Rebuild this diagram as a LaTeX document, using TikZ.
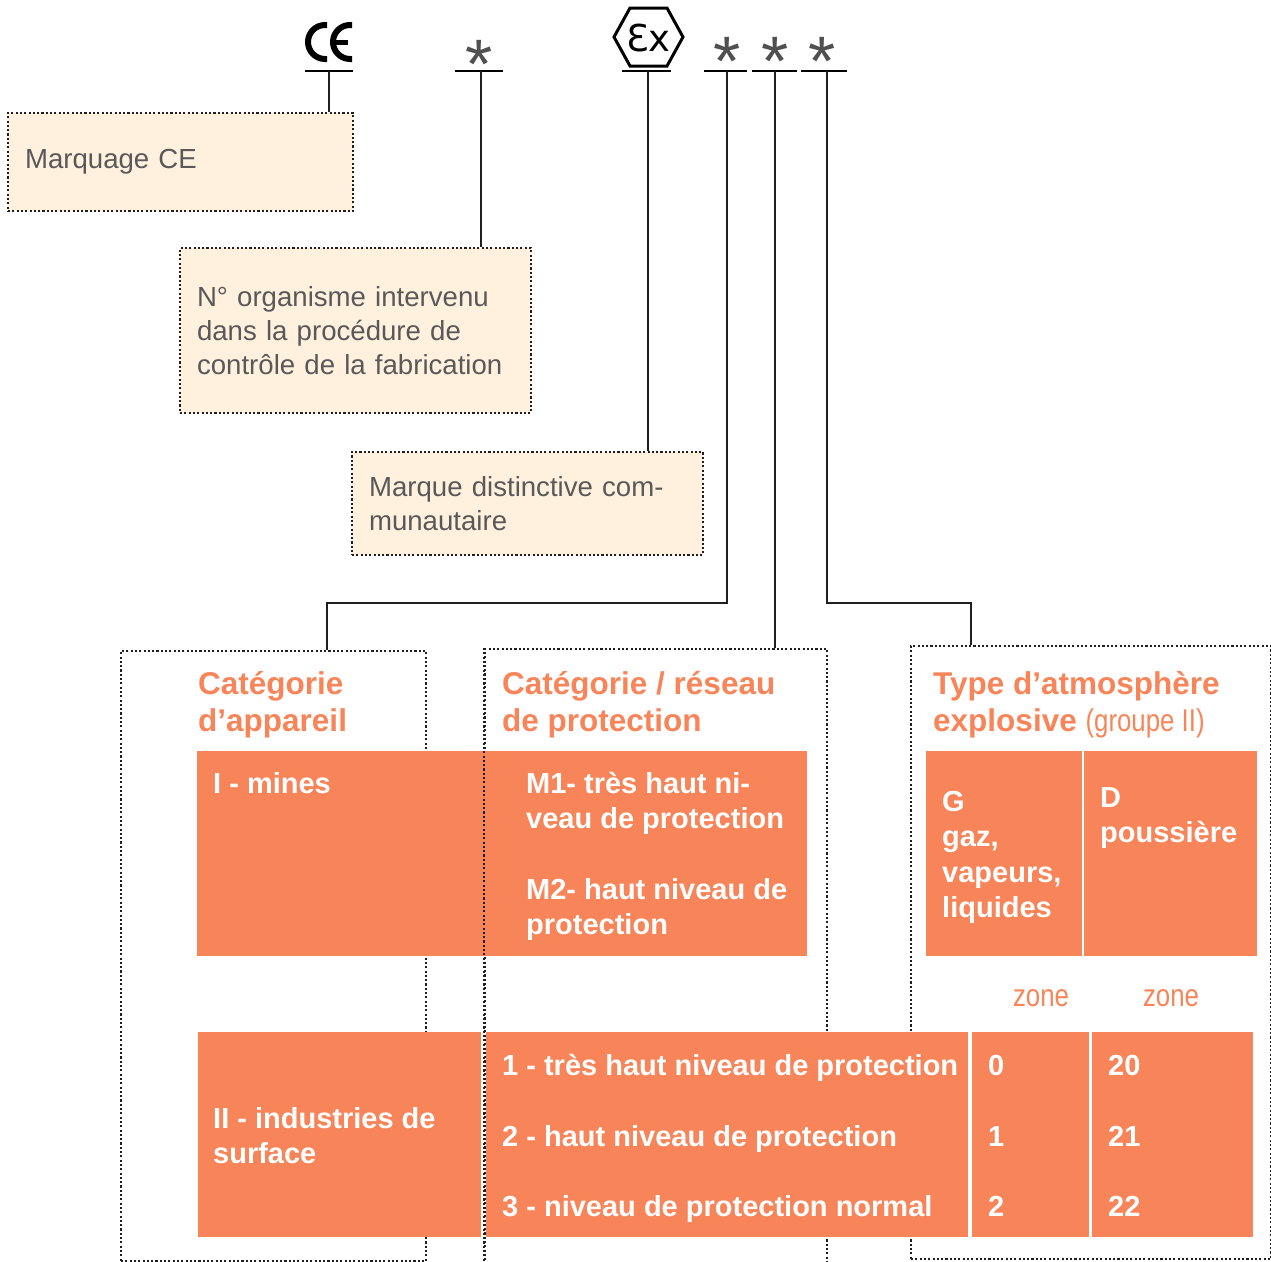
\documentclass[tikz,border=0pt]{standalone}
\usepackage{fontspec}
\setmainfont{Liberation Sans}
\newfontfamily\narrowfont[FakeStretch=0.82]{Liberation Sans}
\newfontfamily\dejavu{DejaVu Sans}
\definecolor{orng}{RGB}{247,133,89}
\definecolor{beige}{RGB}{255,241,222}
\definecolor{txtgray}{RGB}{89,89,89}
\definecolor{stargray}{RGB}{80,80,80}
\tikzset{
  dotline/.style={line width=2.1pt, dash pattern=on 2.1pt off 2.2pt, draw=black!88},
  infobox/.style={dotline, fill=beige, rectangle, anchor=north west, inner xsep=17pt, inner ysep=0pt, align=left, text=txtgray, font=\fontsize{27.6}{34}\selectfont},
  framebox/.style={dotline, rectangle, anchor=north west, inner sep=0pt},
  block/.style={fill=orng, rectangle, anchor=north west, inner sep=0pt},
  wtxt/.style={text=white, font=\fontsize{29}{35.5}\selectfont\bfseries, anchor=base west, inner sep=0pt, align=left},
  ttl/.style={text=orng, font=\fontsize{31.5}{37}\selectfont\bfseries, anchor=base west, inner sep=0pt, align=left},
  zonetxt/.style={text=orng, font=\narrowfont\fontsize{31.5}{37}\selectfont, anchor=base, inner sep=0pt},
  conn/.style={line width=2.9pt, draw=black!88},
  uline/.style={line width=2.8pt, draw=black},
  startxt/.style={text=stargray, font=\fontsize{70}{70}\selectfont, inner sep=0pt, anchor=base},
}
\begin{document}
\begin{tikzpicture}[x=1pt,y=-1pt]
\useasboundingbox (0,0) rectangle (1271,1261);

% ---- top symbols ----
% CE mark
\draw[line width=6pt] (327,59) -- (325,59) arc[start angle=90,end angle=270,radius=17] -- (327,25);
\draw[line width=6pt] (352,59) -- (350,59) arc[start angle=90,end angle=270,radius=17] -- (352,25);
\draw[line width=5pt] (333,42) -- (348,42);
% Ex mark
\draw[line width=3pt, line join=miter] (614,37) -- (630,8) -- (667,8) -- (683,37) -- (667,66) -- (630,66) -- cycle;
\node[font=\dejavu\fontsize{37}{37}\selectfont, inner sep=0pt] (extxt) at (648.5,38) {Ɛx};
% stars
\node[startxt] (s1) at (479,88) {*};
\node[startxt] (s2) at (727,85) {*};
\node[startxt] (s3) at (775,85) {*};
\node[startxt] (s4) at (822,85) {*};

% underlines
\coordinate (uCE) at (329,71);
\coordinate (uS1) at (481,71);
\coordinate (uEx) at (648,71);
\coordinate (uS2) at (727,71);
\coordinate (uS3) at (775,71);
\coordinate (uS4) at (827,71);
\draw[uline] (305,71) -- (353,71);
\draw[uline] (455,71) -- (503,71);
\draw[uline] (622,71) -- (671,71);
\draw[uline] (704,71) -- (747,71);
\draw[uline] (752,71) -- (797,71);
\draw[uline] (801,71) -- (847,71);

% ---- info boxes ----
\node[infobox, text width=311pt, minimum height=98pt] (b1) at (7,112) {Marquage CE};
\node[infobox, text width=317pt, minimum height=165pt] (b2) at (179,247) {N° organisme intervenu\\dans la procédure de\\contrôle de la fabrication};
\node[infobox, text width=317pt, minimum height=103pt] (b3) at (351,451) {Marque distinctive com-\\munautaire};

% ---- frames ----
\node[framebox, minimum width=305pt, minimum height=610pt] (fA) at (120,650) {};
\node[framebox, minimum width=342pt, minimum height=616pt] (fB) at (484,648) {};
\node[framebox, minimum width=360pt, minimum height=613pt] (fC) at (910,645) {};

% ---- connectors ----
\coordinate (kA) at (327,603);
\coordinate (kC) at (971,603);
\draw[conn] (uCE) -- (uCE |- b1.north);
\draw[conn] (uS1) -- (uS1 |- b2.north);
\draw[conn] (uEx) -- (uEx |- b3.north);
\draw[conn] (uS2) |- (kA) -- (kA |- fA.north);
\draw[conn] (uS3) -- (uS3 |- fB.north);
\draw[conn] (uS4) |- (kC) -- (kC |- fC.north);

% ---- titles (anchor = baseline of last line) ----
\node[ttl] (tA) at (198,731) {Catégorie\\d’appareil};
\node[ttl] (tB) at (502,731) {Catégorie / réseau\\de protection};
\node[ttl] (tC) at (933,731) {Type d’atmosphère\\explosive {\narrowfont\mdseries (groupe II)}};

% ---- orange blocks ----
\node[block, minimum width=287pt, minimum height=205pt] (bI) at (197,751) {};
\node[block, minimum width=323pt, minimum height=205pt] (bM) at (484,751) {};
\node[block, minimum width=156pt, minimum height=205pt] (bG) at (926,751) {};
\node[block, minimum width=173pt, minimum height=205pt] (bD) at (1084,751) {};
\node[block, minimum width=283pt, minimum height=205pt] (bII) at (198,1032) {};
\node[block, minimum width=482pt, minimum height=205pt] (bN) at (486,1032) {};
\node[block, minimum width=117pt, minimum height=205pt] (bZ) at (972,1032) {};
\node[block, minimum width=161pt, minimum height=205pt] (bZZ) at (1092,1032) {};
% frame B left edge drawn over the orange
\draw[dotline] (fB.north west) -- (fB.south west);

% ---- block texts (anchor = baseline of last line) ----
\node[wtxt] (xI) at (213,793) {I - mines};
\node[wtxt] (xM1) at (526,828.5) {M1- très haut ni-\\veau de protection};
\node[wtxt] (xM2) at (526,934.5) {M2- haut niveau de\\protection};
\node[wtxt] (xG) at (942,917.5) {G\\gaz,\\vapeurs,\\liquides};
\node[wtxt] (xD) at (1100,842.5) {D\\poussière};
\node[wtxt] (xII) at (213,1163.5) {II - industries de\\surface};
\node[wtxt] (xN1) at (502,1075) {1 - très haut niveau de protection};
\node[wtxt] (xN2) at (502,1146) {2 - haut niveau de protection};
\node[wtxt] (xN3) at (502,1216) {3 - niveau de protection normal};
\node[wtxt] (xZ0) at (988,1075) {0};
\node[wtxt] (xZ1) at (988,1146) {1};
\node[wtxt] (xZ2) at (988,1216) {2};
\node[wtxt] (xZ20) at (1108,1075) {20};
\node[wtxt] (xZ21) at (1108,1146) {21};
\node[wtxt] (xZ22) at (1108,1216) {22};

% zone labels
\node[zonetxt] (zn1) at (1041,1006) {zone};
\node[zonetxt] (zn2) at (1171,1006) {zone};
\end{tikzpicture}
\end{document}
